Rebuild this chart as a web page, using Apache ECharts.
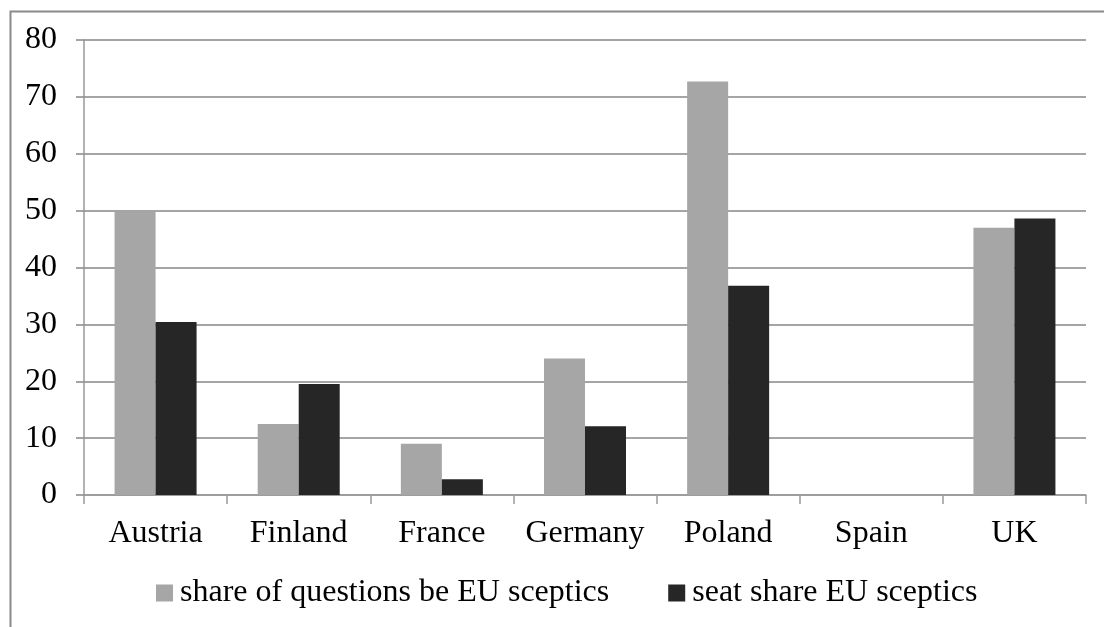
<!DOCTYPE html>
<html>
<head>
<meta charset="utf-8">
<style>
  html, body { margin: 0; padding: 0; background: #ffffff; }
  #chart { width: 1104px; height: 627px; }
</style>
<script src="https://cdn.jsdelivr.net/npm/echarts@6/dist/echarts.min.js"></script>
</head>
<body>
<div id="chart"></div>
<script>
// Countries on the category axis
const countries = ['Austria', 'Finland', 'France', 'Germany', 'Poland', 'Spain', 'UK'];
// Share of questions asked by EU sceptics (%)
const questionShare = [50.0, 12.5, 9.0, 24.0, 72.7, 0, 47.0];
// Seat share held by EU sceptics (%)
const seatShare = [30.4, 19.5, 2.75, 12.1, 36.8, 0, 48.6];
// Value axis range
const yMin = 0, yMax = 80, yStep = 10;

const seriesNames = ['share of questions be EU sceptics', 'seat share EU sceptics'];
const font = '"Liberation Serif", "Times New Roman", serif';
const gridColor = '#878787';
const axisColor = '#9a9a9a';

const chart = echarts.init(document.getElementById('chart'), null, { renderer: 'canvas' });
chart.setOption({
  animation: false,
  backgroundColor: '#ffffff',
  graphic: [{
    type: 'rect',
    left: 8, top: 9,
    shape: { width: 1120, height: 640 },
    style: { fill: 'none', stroke: '#8a8a8a', lineWidth: 2 },
    silent: true
  }],
  grid: { left: 84, right: 18, top: 40, bottom: 132, containLabel: false },
  legend: {
    left: 151, top: 572,
    itemWidth: 17, itemHeight: 17, itemGap: 59,
    icon: 'rect',
    textStyle: { fontFamily: font, fontSize: 32, color: '#000', padding: [0, 0, 0, 2] },
    data: seriesNames
  },
  xAxis: {
    type: 'category',
    data: countries,
    axisLine: { show: true, lineStyle: { color: axisColor, width: 1.5 } },
    axisTick: { show: true, length: 9, lineStyle: { color: axisColor, width: 1.5 } },
    axisLabel: { interval: 0, fontFamily: font, fontSize: 32, color: '#000', margin: 23 },
    splitLine: { show: false }
  },
  yAxis: {
    type: 'value',
    min: yMin, max: yMax, interval: yStep,
    axisLine: { show: true, lineStyle: { color: axisColor, width: 1.5 } },
    axisTick: { show: true, length: 8, lineStyle: { color: gridColor, width: 1.5 } },
    axisLabel: { fontFamily: font, fontSize: 32, color: '#000', margin: 27 },
    splitLine: { show: true, lineStyle: { color: gridColor, width: 1.5 } }
  },
  series: [
    {
      name: seriesNames[0], type: 'bar', data: questionShare,
      barWidth: 41, barGap: '0%',
      itemStyle: { color: '#a6a6a6' }
    },
    {
      name: seriesNames[1], type: 'bar', data: seatShare,
      barWidth: 41, barGap: '0%',
      itemStyle: { color: '#262626' }
    }
  ]
});
</script>
</body>
</html>
